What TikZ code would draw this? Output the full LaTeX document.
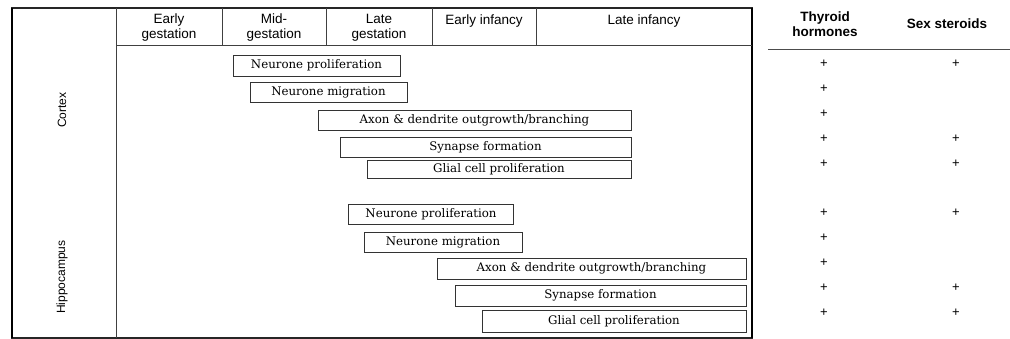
\documentclass[tikz,border=0pt]{standalone}
\usepackage{fontspec}
\setmainfont{DejaVu Serif}
\newfontfamily\hdrfont{Liberation Sans}
\begin{document}
\begin{tikzpicture}[x=1pt,y=-1pt,
  bar/.style={draw=black!80, line width=0.8pt, inner sep=0pt, font=\fontsize{11.8}{13}\selectfont},
  hdr/.style={font=\hdrfont\fontsize{13.5}{15}\selectfont, align=center, inner sep=0pt},
  thdr/.style={font=\hdrfont\bfseries\fontsize{13.5}{15}\selectfont, align=center, inner sep=0pt},
  pl/.style={font=\hdrfont\fontsize{13}{14}\selectfont, inner sep=0pt},
  side/.style={font=\hdrfont\fontsize{12}{13}\selectfont, rotate=90, inner sep=0pt},
  frame/.style={draw=black!85, line width=1.4pt},
  grid/.style={draw=black!75, line width=0.8pt}]
\useasboundingbox (0,0) rectangle (1010,339);
\fill[white] (0,0) rectangle (1010,339);
% frame
\draw[frame] (12,8) rectangle (752,338);
\draw[draw=black, line width=2.6pt] (12,8) -- (12,338);
\draw[draw=black, line width=2.6pt] (752,8) -- (752,338);
\draw[grid] (116,8) -- (116,338);
\draw[grid] (116,45) -- (752,45);
\foreach \xx in {222,326,432,536} \draw[grid] (\xx,8) -- (\xx,45);
% header
\node[hdr] (h1) at (169,27.5) {Early\\gestation};
\node[hdr] (h2) at (274,27.5) {Mid-\\gestation};
\node[hdr] (h3) at (379,27.5) {Late\\gestation};
\node[hdr] (h4) at (484,21) {Early infancy};
\node[hdr] (h5) at (644,21) {Late infancy};
% side labels
\node[side] (cx) at (62,110) {Cortex};
\node[side] (hp) at (62,277) {Hippocampus};
% cortex bars
\node[bar, minimum width=167pt, minimum height=21pt] (c1) at (316.5,65.5) {Neurone proliferation};
\node[bar, minimum width=157pt, minimum height=20pt] (c2) at (328.5,92.5) {Neurone migration};
\node[bar, minimum width=313pt, minimum height=20pt] (c3) at (474.5,120) {Axon \& dendrite outgrowth/branching};
\node[bar, minimum width=291pt, minimum height=20pt] (c4) at (485.5,147) {Synapse formation};
\node[bar, minimum width=264pt, minimum height=18pt] (c5) at (499,169) {Glial cell proliferation};
% hippocampus bars
\node[bar, minimum width=165pt, minimum height=20pt] (p1) at (431,214) {Neurone proliferation};
\node[bar, minimum width=158pt, minimum height=20pt] (p2) at (443,242) {Neurone migration};
\node[bar, minimum width=309pt, minimum height=21pt] (p3) at (591.5,268.5) {Axon \& dendrite outgrowth/branching};
\node[bar, minimum width=291pt, minimum height=21pt] (p4) at (600.5,295.5) {Synapse formation};
\node[bar, minimum width=264pt, minimum height=22pt] (p5) at (614,321) {Glial cell proliferation};
% right table
\node[thdr] (th) at (825,24) {Thyroid\\hormones};
\node[thdr] (ss) at (947,24) {Sex steroids};
\draw[draw=black!70, line width=0.8pt] (768,49) -- (1010,49);
\foreach \yy [count=\i] in {64,89,114,139,164,213,238,263,288,313}
  \node[pl] (t\i) at (824,\yy) {+};
\foreach \yy [count=\i] in {64,139,164,213,288,313}
  \node[pl] (s\i) at (956,\yy) {+};
\end{tikzpicture}
\end{document}
